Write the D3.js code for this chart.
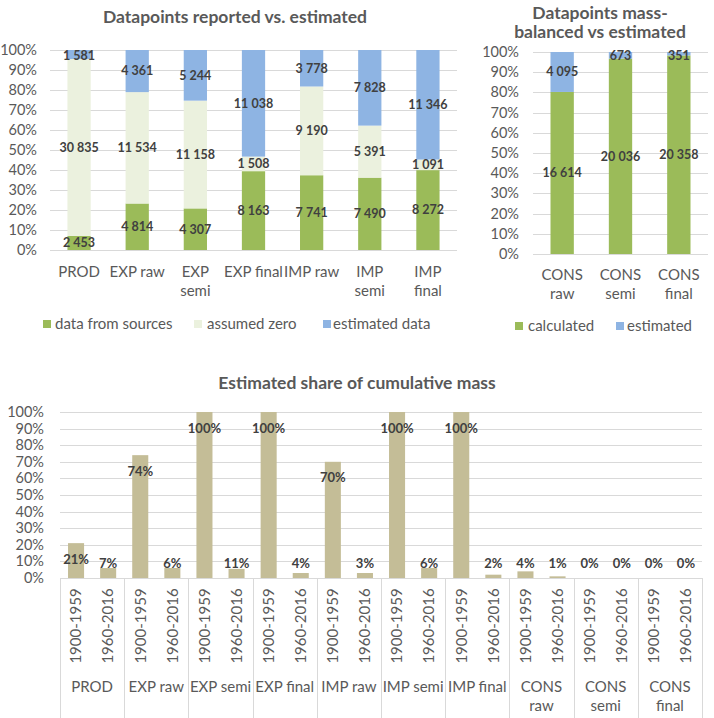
<!DOCTYPE html>
<html><head><meta charset="utf-8">
<script src="https://cdn.jsdelivr.net/npm/d3@7"></script>
<style>
body{margin:0;background:#fff;}
text{font-family:Lato,"Open Sans",sans-serif;}
</style></head>
<body><svg id="c" width="714" height="718"></svg>
<script>
// ---------- DATA ----------
const topCats = ["PROD","EXP raw","EXP semi","EXP final","IMP raw","IMP semi","IMP final"];
const topCatLines = [["PROD"],["EXP raw"],["EXP","semi"],["EXP final"],["IMP raw"],["IMP","semi"],["IMP","final"]];
const fromSources = [2453,4814,4307,8163,7741,7490,8272];
const assumedZero = [30835,11534,11158,1508,9190,5391,1091];
const estimatedData = [1581,4361,5244,11038,3778,7828,11346];
const topSeries = ["data from sources","assumed zero","estimated data"];

const consCats = ["CONS raw","CONS semi","CONS final"];
const consCatLines = [["CONS","raw"],["CONS","semi"],["CONS","final"]];
const calculated = [16614,20036,20358];
const consEstimated = [4095,673,351];
const consSeries = ["calculated","estimated"];

const groups = ["PROD","EXP raw","EXP semi","EXP final","IMP raw","IMP semi","IMP final","CONS raw","CONS semi","CONS final"];
const groupLines = [["PROD"],["EXP raw"],["EXP semi"],["EXP final"],["IMP raw"],["IMP semi"],["IMP final"],["CONS","raw"],["CONS","semi"],["CONS","final"]];
const periods = ["1900-1959","1960-2016"];
const share1900 = [0.21,0.74,1.00,1.00,0.70,1.00,1.00,0.04,0,0];
const share1960 = [0.06,0.06,0.055,0.03,0.03,0.06,0.02,0.01,0,0];
const label1900 = ["21%","74%","100%","100%","70%","100%","100%","4%","0%","0%"];
const label1960 = ["7%","6%","11%","4%","3%","6%","2%","1%","0%","0%"];
const pctTicks = [0,0.1,0.2,0.3,0.4,0.5,0.6,0.7,0.8,0.9,1];

// ---------- STYLE ----------
const C_GREEN="#9BBB59", C_ZERO="#EBF1DE", C_BLUE="#8EB4E3", C_TAN="#C4BD97";
const GRID="#D9D9D9", AXT="#595959", LBL="#404040";
const FS=15, YFS=14.5, TFS=17.5, VFS=12.5;
const fmt = d3.format(",d");
const fmtN = v => fmt(v).replace(/,/g," ");
const pf = d3.format(".0%");

const svg = d3.select("#c");

function grid(g, y, x0, x1, labelX){
  g.selectAll(".gl").data(pctTicks).join("line")
    .attr("x1",x0).attr("x2",x1).attr("y1",d=>Math.round(y(d))+0.5).attr("y2",d=>Math.round(y(d))+0.5)
    .attr("stroke",GRID).attr("stroke-width",1);
  g.selectAll(".yl").data(pctTicks).join("text")
    .attr("x",labelX).attr("y",d=>y(d)).attr("dy","0.35em").attr("text-anchor","end")
    .attr("fill",AXT).attr("font-size",YFS).text(pf);
}

// ---------- TOP LEFT ----------
{
  const g = svg.append("g");
  const x = d3.scaleBand().domain(topCats).range([50,457]).paddingInner(0.6).paddingOuter(0.3);
  const y = d3.scaleLinear().domain([0,1]).range([250,50]);
  g.append("text").attr("x",235).attr("y",23).attr("text-anchor","middle").attr("fill",AXT)
    .attr("font-size",TFS).attr("font-weight","bold").text("Datapoints reported vs. estimated");
  grid(g,y,50,457,37);
  const rows = topCats.map((c,i)=>({cat:c,"data from sources":fromSources[i],"assumed zero":assumedZero[i],"estimated data":estimatedData[i]}));
  const norm = rows.map(r=>{const t=topSeries.reduce((s,k)=>s+r[k],0);const o={cat:r.cat};topSeries.forEach(k=>o[k]=r[k]/t);return o;});
  const stack = d3.stack().keys(topSeries)(norm);
  const cols = [C_GREEN,C_ZERO,C_BLUE];
  stack.forEach((s,si)=>{
    g.append("g").selectAll("rect").data(s).join("rect")
      .attr("x",d=>x(d.data.cat)).attr("width",x.bandwidth())
      .attr("y",d=>y(d[1])).attr("height",d=>y(d[0])-y(d[1])).attr("fill",cols[si]);
  });
  stack.forEach((s,si)=>{
    g.append("g").selectAll("text").data(s).join("text")
      .attr("x",d=>x(d.data.cat)+x.bandwidth()/2).attr("y",d=>Math.max(y((d[0]+d[1])/2),56))
      .attr("dy","0.35em").attr("text-anchor","middle").attr("fill",LBL)
      .attr("font-size",VFS).attr("font-weight","bold")
      .text((d,i)=>fmtN(rows[i][topSeries[si]]));
  });
  topCatLines.forEach((lines,i)=>{
    lines.forEach((ln,j)=>g.append("text").attr("x",x(topCats[i])+x.bandwidth()/2).attr("y",277+j*19)
      .attr("text-anchor","middle").attr("fill",AXT).attr("font-size",FS).text(ln));
  });
  const leg=[[43,55],[194,207],[323,333]];
  topSeries.forEach((k,i)=>{
    g.append("rect").attr("x",leg[i][0]).attr("y",320).attr("width",8).attr("height",8).attr("fill",cols[i]);
    g.append("text").attr("x",leg[i][1]).attr("y",324).attr("dy","0.35em").attr("fill",AXT).attr("font-size",FS).text(k);
  });
}

// ---------- TOP RIGHT ----------
{
  const g = svg.append("g");
  const x = d3.scaleBand().domain(consCats).range([533,708]).paddingInner(0.6).paddingOuter(0.3);
  const y = d3.scaleLinear().domain([0,1]).range([254,52]);
  g.append("text").attr("x",600).attr("y",19).attr("text-anchor","middle").attr("fill",AXT)
    .attr("font-size",TFS).attr("font-weight","bold").text("Datapoints mass-");
  g.append("text").attr("x",600).attr("y",38).attr("text-anchor","middle").attr("fill",AXT)
    .attr("font-size",TFS).attr("font-weight","bold").text("balanced vs estimated");
  grid(g,y,533,708,519);
  const rows = consCats.map((c,i)=>({cat:c,calculated:calculated[i],estimated:consEstimated[i]}));
  const norm = rows.map(r=>{const t=r.calculated+r.estimated;return {cat:r.cat,calculated:r.calculated/t,estimated:r.estimated/t};});
  const stack = d3.stack().keys(consSeries)(norm);
  const cols=[C_GREEN,C_BLUE];
  stack.forEach((s,si)=>{
    g.append("g").selectAll("rect").data(s).join("rect")
      .attr("x",d=>x(d.data.cat)).attr("width",x.bandwidth())
      .attr("y",d=>y(d[1])).attr("height",d=>y(d[0])-y(d[1])).attr("fill",cols[si]);
  });
  stack.forEach((s,si)=>{
    g.append("g").selectAll("text").data(s).join("text")
      .attr("x",d=>x(d.data.cat)+x.bandwidth()/2).attr("y",d=>Math.max(y((d[0]+d[1])/2),56))
      .attr("dy","0.35em").attr("text-anchor","middle").attr("fill",LBL)
      .attr("font-size",VFS).attr("font-weight","bold")
      .text((d,i)=>fmtN(rows[i][consSeries[si]]));
  });
  consCatLines.forEach((lines,i)=>{
    lines.forEach((ln,j)=>g.append("text").attr("x",x(consCats[i])+x.bandwidth()/2).attr("y",280+j*19)
      .attr("text-anchor","middle").attr("fill",AXT).attr("font-size",FS).text(ln));
  });
  const leg=[[515,528],[616,627]];
  consSeries.forEach((k,i)=>{
    g.append("rect").attr("x",leg[i][0]).attr("y",322).attr("width",8).attr("height",8).attr("fill",cols[i]);
    g.append("text").attr("x",leg[i][1]).attr("y",326).attr("dy","0.35em").attr("fill",AXT).attr("font-size",FS).text(k);
  });
}

// ---------- BOTTOM ----------
{
  const g = svg.append("g");
  const x0 = d3.scaleBand().domain(groups).range([60,702]);
  const x1 = d3.scaleBand().domain(periods).range([0,x0.bandwidth()]).paddingInner(0.5).paddingOuter(0.25);
  const y = d3.scaleLinear().domain([0,1]).range([578,412]);
  g.append("text").attr("x",357).attr("y",389).attr("text-anchor","middle").attr("fill",AXT)
    .attr("font-size",TFS).attr("font-weight","bold").text("Estimated share of cumulative mass");
  grid(g,y,60,702,44);
  const data=[];
  groups.forEach((gr,i)=>{
    data.push({g:gr,p:periods[0],v:share1900[i],l:label1900[i]});
    data.push({g:gr,p:periods[1],v:share1960[i],l:label1960[i]});
  });
  g.append("g").selectAll("rect").data(data).join("rect")
    .attr("x",d=>x0(d.g)+x1(d.p)).attr("width",x1.bandwidth())
    .attr("y",d=>y(d.v)).attr("height",d=>y(0)-y(d.v)).attr("fill",C_TAN);
  g.append("g").selectAll("text").data(data).join("text")
    .attr("x",d=>x0(d.g)+x1(d.p)+x1.bandwidth()/2).attr("y",d=>Math.min(y(d.v)+16,563))
    .attr("dy","0.35em").attr("text-anchor","middle").attr("fill",LBL)
    .attr("font-size",13).attr("font-weight","bold").text(d=>d.l);
  const bounds = groups.map(gr=>x0(gr)).concat([702]);
  g.append("g").selectAll("line").data(bounds).join("line")
    .attr("x1",d=>Math.round(d)+0.5).attr("x2",d=>Math.round(d)+0.5).attr("y1",578).attr("y2",718)
    .attr("stroke",GRID).attr("stroke-width",1);
  g.append("g").selectAll("text").data(data).join("text")
    .attr("transform",d=>`translate(${x0(d.g)+x1(d.p)+x1.bandwidth()/2},626) rotate(-90)`)
    .attr("text-anchor","middle").attr("dy","0.35em").attr("fill",AXT).attr("font-size",FS).text(d=>d.p);
  groupLines.forEach((lines,i)=>{
    lines.forEach((ln,j)=>g.append("text").attr("x",x0(groups[i])+x0.bandwidth()/2).attr("y",692+j*19)
      .attr("text-anchor","middle").attr("fill",AXT).attr("font-size",FS).text(ln));
  });
}
</script></body></html>
